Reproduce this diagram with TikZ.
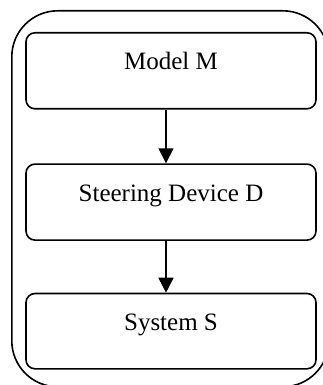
\documentclass[tikz,border=0pt]{standalone}
\usepackage{fontspec}
\setmainfont{Liberation Serif}
\usetikzlibrary{arrows.meta}
\begin{document}
\begin{tikzpicture}[x=1pt,y=1pt,
  box/.style={draw, line width=1.6pt, rounded corners=9pt, inner sep=0pt,
    minimum width=290pt, anchor=north, font=\fontsize{25}{29}\selectfont},
  conn/.style={line width=1.6pt, -{Triangle[length=15pt,width=15pt]}}]
\useasboundingbox (0,0) rectangle (323,-385);
\node[draw, line width=1.6pt, rounded corners=46pt, inner sep=0pt,
  minimum width=317pt, minimum height=376pt, anchor=north west] (outer) at (11,-10) {};
\node[box, text height=37pt, text depth=39pt] (m) at (171,-32) {Model M};
\node[box, text height=37.7pt, text depth=38.3pt] (d) at (171,-163.3) {Steering Device D};
\node[box, text height=37.3pt, text depth=38pt] (s) at (171,-292.7) {System S};
\draw[conn] ([xshift=-5pt]m.south) -- ([xshift=-5pt]d.north);
\draw[conn] ([xshift=-5pt]d.south) -- ([xshift=-5pt]s.north);
\end{tikzpicture}
\end{document}
